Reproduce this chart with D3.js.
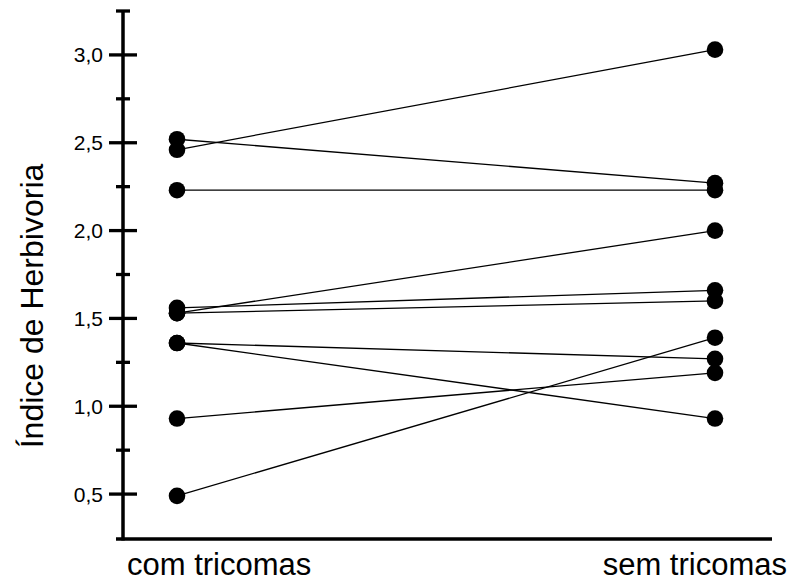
<!DOCTYPE html>
<html>
<head>
<meta charset="utf-8">
<script src="https://cdn.jsdelivr.net/npm/d3@7"></script>
<style>
  html, body { margin: 0; padding: 0; background: #fff; }
  svg { display: block; }
  text { font-family: "Liberation Sans", Arial, sans-serif; fill: #000; }
</style>
</head>
<body>
<svg id="chart" width="792" height="581"></svg>
<script>
// ---- data ----
const categories = ["com tricomas", "sem tricomas"];
const comTricomas = [2.52, 2.46, 2.23, 1.53, 1.56, 1.53, 1.36, 1.36, 0.93, 0.49];
const semTricomas = [2.27, 3.03, 2.23, 2.00, 1.66, 1.60, 1.27, 0.93, 1.19, 1.39];
const majorTicks = [0.5, 1.0, 1.5, 2.0, 2.5, 3.0];
const minorTicks = [0.75, 1.25, 1.75, 2.25, 2.75, 3.25];
const yTitle = "Índice de Herbivoria";

// ---- layout ----
const svg = d3.select("#chart");
const axisX = 123, axisBottom = 539, axisTop = 11;

const y = d3.scaleLinear().domain([0.25, 3.25]).range([axisBottom - 1, axisTop]);
const x = d3.scalePoint().domain(categories).range([177, 715]);

const fmt = d => d3.format(".1f")(d).replace(".", ",");

// y axis line
svg.append("line")
  .attr("x1", axisX).attr("x2", axisX)
  .attr("y1", axisTop).attr("y2", axisBottom + 1.5)
  .attr("stroke", "#000").attr("stroke-width", 3.5);

// x axis line
svg.append("line")
  .attr("x1", 116).attr("x2", 772)
  .attr("y1", axisBottom).attr("y2", axisBottom)
  .attr("stroke", "#000").attr("stroke-width", 3.5);

// major ticks
svg.selectAll("line.major").data(majorTicks).enter().append("line")
  .attr("class", "major")
  .attr("x1", axisX - 14).attr("x2", axisX + 14)
  .attr("y1", d => y(d)).attr("y2", d => y(d))
  .attr("stroke", "#000").attr("stroke-width", 3.3);

// minor ticks
svg.selectAll("line.minor").data(minorTicks).enter().append("line")
  .attr("class", "minor")
  .attr("x1", axisX - 7).attr("x2", axisX + 7)
  .attr("y1", d => y(d)).attr("y2", d => y(d))
  .attr("stroke", "#000").attr("stroke-width", 3.3);

// tick labels
svg.selectAll("text.tl").data(majorTicks).enter().append("text")
  .attr("class", "tl")
  .attr("x", axisX - 20).attr("y", d => y(d))
  .attr("dy", "0.36em")
  .attr("text-anchor", "end")
  .style("font-size", "21px")
  .text(fmt);

// y title
svg.append("text")
  .attr("transform", `translate(43,306) rotate(-90)`)
  .attr("text-anchor", "middle")
  .style("font-size", "32px")
  .text(yTitle);

// pair lines
const pairs = comTricomas.map((v, i) => [v, semTricomas[i]]);
svg.selectAll("line.pair").data(pairs).enter().append("line")
  .attr("class", "pair")
  .attr("x1", x(categories[0])).attr("x2", x(categories[1]))
  .attr("y1", d => y(d[0])).attr("y2", d => y(d[1]))
  .attr("stroke", "#000").attr("stroke-width", 1.3);

// dots
[comTricomas, semTricomas].forEach((vals, ci) => {
  svg.selectAll(null).data(vals).enter().append("circle")
    .attr("cx", x(categories[ci]))
    .attr("cy", d => y(d))
    .attr("r", 8.3)
    .attr("fill", "#000");
});

// category labels
svg.append("text")
  .attr("x", x(categories[0]) - 50).attr("y", 575)
  .attr("text-anchor", "start")
  .style("font-size", "31px")
  .text(categories[0]);
svg.append("text")
  .attr("x", x(categories[1]) + 72).attr("y", 575)
  .attr("text-anchor", "end")
  .style("font-size", "31px")
  .text(categories[1]);
</script>
</body>
</html>
